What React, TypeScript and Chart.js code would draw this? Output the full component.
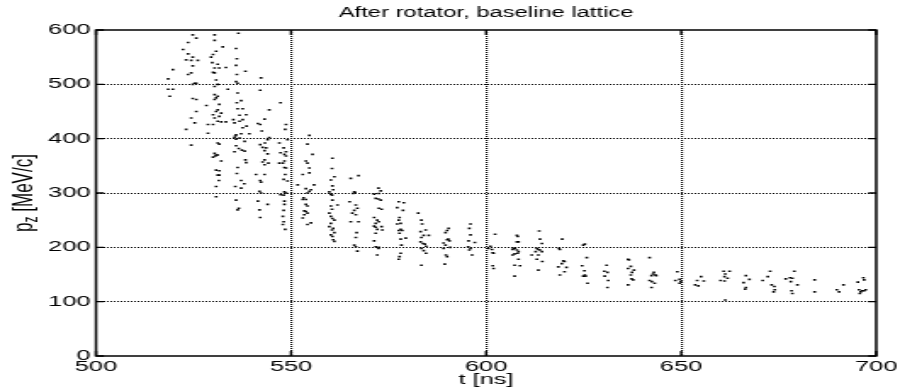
import React, { useEffect, useRef } from "react";
import { Chart, registerables } from "chart.js";

Chart.register(...registerables);

const TITLE = "After rotator, baseline lattice";
const X_LABEL = "t [ns]";
const Y_LABEL_MAIN = "p";
const Y_LABEL_SUB = "z";
const Y_LABEL_REST = " [MeV/c]";

const X_MIN = 500;
const X_MAX = 700;
const X_STEP = 50;
const Y_MIN = 0;
const Y_MAX = 600;
const Y_STEP = 100;

// [t (ns), pz (MeV/c)], t < 540 ns
const pointsHead: [number, number][] = [
  [524.8, 591], [525.7, 585], [523.6, 577], [530.4, 591], [530.4, 581], [536.5, 594],
  [522.3, 564], [523.6, 556], [523.1, 545], [524.4, 544], [524.8, 550], [526.1, 544],
  [530.8, 561], [530.0, 555], [529.5, 550], [532.5, 569], [535.9, 566], [536.1, 547],
  [519.7, 527], [524.8, 534], [524.4, 521], [523.6, 518],
  [529.8, 540], [531.2, 537], [530.4, 530], [530.0, 522], [531.6, 530], [533.3, 531], [530.4, 521],
  [535.9, 535], [538.3, 524], [536.1, 518],
  [518.5, 510], [525.3, 502], [524.8, 500], [525.7, 502], [530.8, 508], [530.4, 496], [531.2, 500],
  [535.9, 505], [536.3, 502], [518.5, 491], [519.7, 491], [518.9, 478],
  [524.8, 474], [525.7, 472], [530.4, 481], [530.8, 475], [530.4, 472], [531.2, 478], [531.6, 463],
  [533.8, 491], [536.3, 484], [536.1, 466], [537.2, 470], [537.6, 455], [536.3, 455],
  [528.3, 461], [525.7, 450], [524.4, 438], [525.3, 429], [523.1, 417],
  [530.0, 444], [530.8, 450], [531.2, 453], [532.1, 447], [530.4, 438], [531.6, 441], [531.2, 432],
  [532.1, 431], [533.3, 431], [530.0, 426],
  [535.2, 435], [536.8, 443], [535.5, 429], [536.8, 432], [537.6, 435], [537.6, 420], [537.2, 409], [535.9, 407],
  [528.7, 426], [528.7, 410], [538.5, 444], [538.6, 423],
  [535.7, 405], [536.8, 401], [535.9, 399], [535.5, 402],
  [524.4, 388], [531.2, 392], [531.6, 390], [535.9, 387], [536.6, 382], [537.4, 379], [535.5, 376],
  [530.4, 373], [530.8, 370], [530.0, 366], [530.6, 368], [531.2, 370], [532.1, 359],
  [538.3, 361], [538.5, 356], [536.3, 347],
  [530.8, 342], [531.6, 341], [531.2, 333], [531.6, 333], [536.1, 336], [531.5, 323],
  [537.2, 323], [538.0, 317], [530.8, 312], [535.7, 312], [537.2, 309],
  [530.8, 293], [535.9, 287], [536.6, 272], [536.3, 269],
  [539.3, 409], [538.1, 395], [538.1, 377],
];

// 540 ns <= t < 600 ns
const pointsMid: [number, number][] = [
  [542.3, 512], [542.1, 489], [547.3, 466], [544.4, 453],
  [541.5, 428], [542.1, 426], [543.2, 436], [542.5, 414],
  [548.7, 426], [548.5, 417], [547.0, 392],
  [544.4, 402], [544.0, 398], [543.3, 392], [542.1, 389], [542.7, 384], [543.6, 383], [543.2, 378],
  [549.1, 398], [548.1, 383], [548.7, 376], [548.3, 371], [547.3, 374], [548.7, 368],
  [544.0, 372], [543.2, 361], [542.7, 357], [544.2, 355], [543.2, 352], [548.3, 359], [547.0, 355],
  [547.9, 355], [548.3, 347], [548.7, 346], [548.5, 334], [548.1, 325], [549.1, 322],
  [541.0, 334], [543.2, 334], [542.1, 323], [542.3, 320],
  [541.9, 303], [542.3, 300], [547.3, 297], [548.3, 302], [548.7, 300], [548.1, 296],
  [541.5, 285], [544.0, 279], [541.9, 269], [542.1, 255],
  [548.3, 285], [548.3, 279], [548.1, 268], [547.9, 257], [548.1, 247], [547.9, 242], [548.5, 233],
  [554.7, 406], [554.2, 390], [555.5, 371], [553.8, 359], [554.2, 355], [554.7, 346], [554.7, 337],
  [553.0, 334], [551.7, 315], [553.8, 308], [555.9, 315], [555.1, 306], [554.7, 303], [554.2, 300],
  [553.2, 291], [553.8, 288], [553.0, 288], [553.8, 279], [554.2, 276], [553.4, 267], [553.8, 266],
  [554.2, 263], [553.0, 254], [553.4, 260], [555.1, 245], [554.2, 242],
  [560.6, 364], [560.5, 345], [561.1, 330], [560.2, 324], [560.6, 313], [560.8, 306], [559.8, 302],
  [560.2, 298], [560.5, 296], [560.6, 287], [561.9, 278], [560.2, 276], [560.5, 270], [559.8, 263],
  [560.2, 257], [560.6, 253], [561.1, 250], [560.2, 244], [559.8, 238], [560.8, 235], [560.5, 232],
  [561.1, 227], [560.2, 223], [560.6, 220], [561.1, 211], [560.8, 214],
  [565.3, 327], [567.3, 332], [566.2, 302], [566.4, 301], [565.9, 299], [565.0, 284], [566.6, 278],
  [566.2, 268], [567.0, 272], [565.7, 263], [566.6, 260], [565.3, 247], [567.3, 247], [566.8, 227],
  [566.6, 218], [566.2, 204], [566.6, 201], [567.0, 193],
  [572.4, 309], [573.0, 304], [572.5, 299], [571.3, 298], [571.7, 290], [572.4, 289], [573.0, 287],
  [572.5, 272], [573.2, 270], [571.3, 255], [572.1, 250], [571.7, 244], [572.5, 247], [571.3, 239],
  [571.7, 237], [573.2, 238], [573.4, 232], [572.1, 233], [571.7, 226], [571.3, 212], [571.7, 201],
  [572.4, 198], [572.1, 186], [572.5, 200],
  [577.6, 284], [578.9, 282], [577.2, 273], [578.7, 268], [577.8, 255], [577.6, 250], [578.1, 244],
  [577.2, 243], [578.1, 233], [577.6, 231], [578.5, 231], [577.8, 226], [579.4, 217], [578.1, 215],
  [578.3, 204], [578.1, 189], [577.8, 183], [577.6, 178],
  [582.6, 263], [583.4, 250], [583.6, 243], [584.5, 232], [583.2, 229], [584.0, 222], [585.3, 222],
  [583.4, 218], [583.2, 210], [583.8, 207], [584.3, 206], [584.6, 202], [583.4, 198], [584.0, 194],
  [584.6, 189], [583.4, 167],
  [590.4, 235], [590.0, 231], [589.6, 227], [590.3, 215], [589.1, 208], [590.0, 214], [590.6, 212],
  [589.6, 204], [590.8, 200], [589.1, 198], [589.7, 186], [590.0, 183], [589.4, 169],
  [596.0, 243], [595.7, 235], [596.0, 223], [595.5, 212], [597.1, 209], [595.4, 201], [596.0, 198],
  [595.7, 195], [596.4, 186],
];

// t >= 600 ns
const pointsTail: [number, number][] = [
  [602.3, 224], [601.1, 202], [601.5, 196], [601.7, 190], [601.9, 189], [600.6, 198], [601.7, 166], [601.9, 161],
  [607.9, 222], [608.1, 220], [607.9, 210], [608.3, 210],
  [607.0, 198], [607.4, 198], [606.8, 196], [607.9, 195], [608.3, 192], [608.1, 189], [607.3, 188],
  [606.8, 186], [608.3, 178], [607.3, 167], [608.7, 166], [607.3, 147],
  [613.6, 230], [613.8, 215], [614.3, 207], [613.0, 198], [613.4, 196], [613.8, 195], [614.3, 192],
  [612.7, 192], [611.7, 186], [613.4, 186], [613.0, 178], [614.4, 174], [613.4, 158],
  [619.5, 215], [618.7, 198], [618.9, 196], [619.8, 175], [620.1, 174], [619.4, 170], [618.5, 164],
  [620.6, 163], [620.1, 155], [618.9, 149],
  [624.9, 204], [625.3, 206], [625.8, 181], [624.6, 166], [625.2, 157], [625.3, 149], [625.5, 147],
  [624.9, 147], [626.0, 134],
  [630.9, 167], [630.3, 156], [631.1, 154], [630.4, 147], [631.3, 139], [631.1, 126],
  [636.4, 178], [636.6, 177], [637.1, 165], [637.9, 158], [636.4, 161], [637.4, 154], [637.1, 149],
  [637.3, 142], [637.7, 140], [636.4, 131],
  [641.9, 181], [643.0, 154], [642.8, 151], [643.4, 149], [642.4, 148], [643.6, 148], [641.9, 139],
  [642.5, 137], [643.2, 134], [642.4, 126],
  [649.0, 155], [648.5, 139], [649.6, 141], [649.9, 137], [649.6, 134],
  [653.6, 131], [654.4, 129], [654.1, 139], [655.1, 146], [655.8, 138],
  [660.9, 156], [661.3, 151], [662.4, 156], [661.1, 146], [661.9, 143], [660.1, 139], [661.1, 138], [661.3, 103],
  [666.6, 148], [667.5, 141], [666.0, 135], [666.6, 126], [666.4, 123],
  [672.8, 156], [672.2, 146], [670.9, 139], [673.2, 131], [673.9, 128], [674.0, 122], [673.7, 118],
  [679.0, 156], [677.9, 144], [678.5, 143], [676.8, 142], [678.1, 137], [679.8, 131], [678.3, 120], [678.5, 115],
  [684.2, 140], [684.2, 118],
  [689.9, 122], [690.5, 118], [691.6, 131],
  [695.3, 136], [696.7, 144], [696.9, 140], [695.6, 122], [696.0, 118], [696.4, 120], [697.3, 122],
  [695.8, 115], [696.9, 120],
];

// The reference figure is horizontally stretched; draw narrower and stretch via CSS.
const OUT_W = 900;
const OUT_H = 389;
const CANVAS_W = 530;
const SX = OUT_W / CANVAS_W;
const FONT = "'Liberation Sans', Arial, Helvetica, sans-serif";

const framePlugin = {
  id: "frameTicks",
  afterDraw(chart: any) {
    const { ctx, chartArea, scales } = chart;
    const { left, right, top, bottom } = chartArea;
    const xs = scales.x;
    const ys = scales.y;
    ctx.save();
    ctx.setLineDash([]);
    ctx.strokeStyle = "#000";
    ctx.lineWidth = 1.5;
    ctx.strokeRect(left, top, right - left, bottom - top);
    ctx.lineWidth = 1.4;
    ctx.beginPath();
    xs.ticks.forEach((t: any) => {
      const px = xs.getPixelForValue(t.value);
      ctx.moveTo(px, bottom);
      ctx.lineTo(px, bottom - 5);
      ctx.moveTo(px, top);
      ctx.lineTo(px, top + 5);
    });
    ys.ticks.forEach((t: any) => {
      const py = ys.getPixelForValue(t.value);
      ctx.moveTo(left, py);
      ctx.lineTo(left + 4.7, py);
      ctx.moveTo(right, py);
      ctx.lineTo(right - 4.7, py);
    });
    ctx.stroke();

    // y-axis label with subscript
    const mainFont = `17px ${FONT}`;
    const subFont = `12px ${FONT}`;
    ctx.font = mainFont;
    const w1 = ctx.measureText(Y_LABEL_MAIN).width;
    const w3 = ctx.measureText(Y_LABEL_REST).width;
    ctx.font = subFont;
    const w2 = ctx.measureText(Y_LABEL_SUB).width;
    const total = w1 + w2 + w3;
    const cx = 24 / SX;
    const cy = (top + bottom) / 2;
    ctx.translate(cx, cy);
    ctx.rotate(-Math.PI / 2);
    ctx.fillStyle = "#000";
    ctx.textBaseline = "middle";
    ctx.textAlign = "left";
    let x0 = -total / 2;
    ctx.font = mainFont;
    ctx.fillText(Y_LABEL_MAIN, x0, 0);
    x0 += w1;
    ctx.font = subFont;
    ctx.fillText(Y_LABEL_SUB, x0, 5);
    x0 += w2;
    ctx.font = mainFont;
    ctx.fillText(Y_LABEL_REST, x0, 0);
    ctx.restore();
  },
};

export default function App() {
  const ref = useRef<HTMLCanvasElement>(null);

  useEffect(() => {
    document.body.style.margin = "0";
    const canvas = ref.current;
    if (!canvas) return;
    const allPoints = [...pointsHead, ...pointsMid, ...pointsTail].map(([x, y]) => ({ x, y }));
    const edgeColor = (min: number, max: number) => (c: any) =>
      c.tick && (c.tick.value === min || c.tick.value === max) ? "rgba(0,0,0,0)" : "#000";

    const chart = new Chart(canvas, {
      type: "scatter",
      data: {
        datasets: [
          {
            data: allPoints,
            backgroundColor: "#000",
            borderColor: "#000",
            borderWidth: 0,
            pointRadius: 1.15,
            pointStyle: "rect",
          },
        ],
      },
      options: {
        responsive: false,
        animation: false,
        events: [],
        layout: { padding: { left: 0, right: CANVAS_W - 879 / SX, top: 0, bottom: 0 } },
        plugins: {
          legend: { display: false },
          tooltip: { enabled: false },
          title: {
            display: true,
            text: TITLE,
            color: "#000",
            fullSize: false,
            font: { family: FONT, size: 14, weight: "normal" },
            padding: { top: 5, bottom: 8.2 },
          },
        },
        scales: {
          x: {
            type: "linear",
            min: X_MIN,
            max: X_MAX,
            ticks: {
              stepSize: X_STEP,
              color: "#000",
              font: { family: FONT, size: 15 },
              padding: 1.5,
              maxRotation: 0,
              autoSkip: false,
            },
            grid: { color: edgeColor(X_MIN, X_MAX), lineWidth: 1.2, drawTicks: false },
            border: { display: false, dash: [1, 1] },
            title: {
              display: true,
              text: X_LABEL,
              color: "#000",
              font: { family: FONT, size: 15 },
              padding: { top: 0, bottom: 0 },
            },
            afterFit: (s: any) => {
              s.height = OUT_H - 356;
            },
          },
          y: {
            type: "linear",
            min: Y_MIN,
            max: Y_MAX,
            ticks: {
              stepSize: Y_STEP,
              color: "#000",
              font: { family: FONT, size: 15 },
              padding: 3.2,
            },
            grid: { color: edgeColor(Y_MIN, Y_MAX), lineWidth: 1, drawTicks: false },
            border: { display: false, dash: [1, 1] },
            afterFit: (s: any) => {
              s.width = 96 / SX;
            },
          },
        },
      } as any,
      plugins: [framePlugin],
    });
    return () => chart.destroy();
  }, []);

  return (
    <div style={{ position: "absolute", left: 0, top: 0, width: OUT_W, height: OUT_H, background: "#fff" }}>
      <canvas
        ref={ref}
        width={CANVAS_W}
        height={OUT_H}
        style={{ width: `${OUT_W}px`, height: `${OUT_H}px`, display: "block" }}
      />
    </div>
  );
}
